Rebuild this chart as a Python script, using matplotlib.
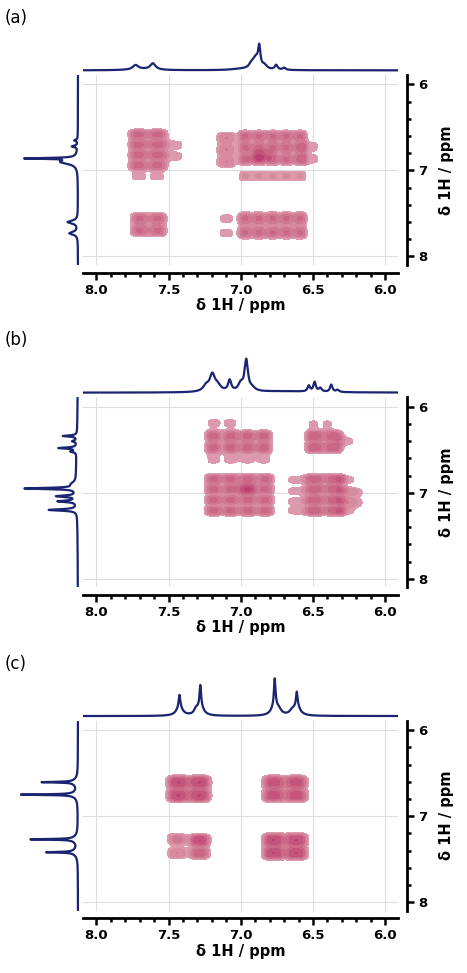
import matplotlib
matplotlib.use("Agg")
import matplotlib.pyplot as plt
import numpy as np
from matplotlib.ticker import MultipleLocator, FormatStrFormatter

plt.rcParams['font.family'] = ['DejaVu Sans']

W, H = 467, 973
panel_labels = ['(a)', '(b)', '(c)']
axis_label = 'δ 1H / ppm'
x_ticks = [8.0, 7.5, 7.0, 6.5, 6.0]
y_ticks = [6, 7, 8]

# 1D projections: peak position (ppm), height, half width
top_a_pos = [7.728, 7.608, 6.925, 6.895, 6.872, 6.835, 6.755, 6.70, 7.68, 7.0]
top_a_h = [0.12, 0.17, 0.12, 0.30, 0.52, 0.10, 0.13, 0.06, 0.03, 0.03]
top_a_w = [0.022, 0.022, 0.02, 0.025, 0.009, 0.02, 0.012, 0.012, 0.1, 0.08]
left_a_pos = [6.65, 6.72, 6.86, 6.90, 7.60, 7.73]
left_a_h = [0.06, 0.10, 0.85, 0.30, 0.18, 0.15]
left_a_w = [0.01, 0.01, 0.006, 0.03, 0.02, 0.02]

top_b_pos = [7.24, 7.197, 7.16, 7.077, 7.0, 6.962, 6.92, 6.529, 6.489, 6.45, 6.374, 6.33, 6.7]
top_b_h = [0.15, 0.45, 0.15, 0.30, 0.20, 0.84, 0.08, 0.16, 0.26, 0.10, 0.20, 0.06, 0.035]
top_b_w = [0.025, 0.022, 0.025, 0.013, 0.02, 0.014, 0.025, 0.01, 0.01, 0.012, 0.01, 0.012, 0.25]
left_b_pos = [6.34, 6.40, 6.48, 6.52, 6.90, 6.95, 7.04, 7.10, 7.20, 6.75]
left_b_h = [0.25, 0.08, 0.32, 0.10, 0.08, 0.90, 0.35, 0.33, 0.50, 0.03]
left_b_w = [0.008, 0.01, 0.008, 0.01, 0.03, 0.008, 0.01, 0.01, 0.01, 0.45]

top_c_pos = [7.424, 7.424, 7.28, 7.28, 7.31, 6.765, 6.765, 6.735, 6.612, 6.612, 6.645]
top_c_h = [0.32, 0.25, 0.55, 0.27, 0.12, 0.70, 0.29, 0.10, 0.36, 0.27, 0.10]
top_c_w = [0.006, 0.025, 0.006, 0.025, 0.015, 0.006, 0.025, 0.02, 0.006, 0.025, 0.02]
left_c_pos = [6.605, 6.75, 7.27, 7.42, 6.605, 6.75, 7.27, 7.42]
left_c_h = [0.55, 0.92, 0.75, 0.47, 0.09, 0.09, 0.09, 0.09]
left_c_w = [0.005, 0.005, 0.005, 0.005, 0.04, 0.04, 0.04, 0.04]

# 2D cross peaks: (x centres, y centres, amplitude)
blocks_a = [
    ([7.71, 7.575], [6.58, 6.70, 6.82, 6.94], 0.75),
    ([7.45], [6.70, 6.84], 0.3),
    ([7.71, 7.575], [7.07], 0.3),
    ([7.70, 7.575], [7.56, 7.70], 0.72),
    ([6.97, 6.875, 6.78, 6.685, 6.59], [6.60, 6.735, 6.87], 0.72),
    ([6.86], [6.83], 0.4),
    ([7.10], [6.62, 6.76, 6.90], 0.55),
    ([6.97, 6.875, 6.78, 6.685, 6.59], [7.065], 0.42),
    ([6.51], [6.72, 6.87], 0.3),
    ([6.97, 6.875, 6.78, 6.685, 6.59], [7.56, 7.72], 0.72),
    ([7.10], [7.56, 7.73], 0.3),
]
blocks_b = [
    ([7.19, 7.07, 6.955, 6.84], [6.34, 6.475], 0.75),
    ([7.19, 7.07], [6.19], 0.3),
    ([7.19, 7.07, 6.955, 6.84], [6.61], 0.32),
    ([6.49, 6.36], [6.34, 6.475], 0.8),
    ([6.26], [6.40], 0.28),
    ([6.50, 6.40], [6.20], 0.28),
    ([7.19, 7.07, 6.95, 6.83], [6.84, 6.96, 7.085, 7.21], 0.74),
    ([6.96], [6.96], 0.3),
    ([6.49, 6.35], [6.84, 6.96, 7.085, 7.21], 0.78),
    ([6.62], [6.85, 6.98, 7.10, 7.21], 0.34),
    ([6.26], [6.85, 6.98, 7.10, 7.21], 0.3),
    ([6.20], [7.00, 7.12], 0.27),
]
blocks_c = [
    ([7.435, 7.285], [6.605, 6.76], 1.0),
    ([6.773, 6.616], [6.605, 6.76], 0.95),
    ([7.285], [7.28], 1.0),
    ([7.285], [7.43], 0.8),
    ([7.44], [7.27], 0.6),
    ([7.44], [7.43], 0.55),
    ([6.773, 6.616], [7.276, 7.43], 1.0),
]

panels = [
    (top_a_pos, top_a_h, top_a_w, left_a_pos, left_a_h, left_a_w, blocks_a),
    (top_b_pos, top_b_h, top_b_w, left_b_pos, left_b_h, left_b_w, blocks_b),
    (top_c_pos, top_c_h, top_c_w, left_c_pos, left_c_h, left_c_w, blocks_c),
]
offsets = [0, 322.3, 645.7]

line_col = '#1a2470'
levels = [0.25, 0.4, 0.55, 0.7, 0.85, 1.0, 3.0]
band_colors = ['#dc9aac', '#d68a9f', '#d07892', '#ca6686', '#c4547b', '#bc4070']

xlim = (8.09, 5.91)
ylim = (8.1, 5.89)


def rect(l, t, r, b):
    return [l / W, 1 - b / H, (r - l) / W, (b - t) / H]


def lorentz(axis, pos, h, w):
    out = np.zeros_like(axis)
    for p, a, g in zip(pos, h, w):
        out += a / (1 + ((axis - p) / g) ** 2)
    return out


def width_for(cs):
    if len(cs) < 2:
        return 0.072
    return min(0.078, np.min(np.abs(np.diff(cs))) / 1.95)


def blob(d, w):
    return np.exp(-(np.abs(d) / w) ** 3)


fig = plt.figure(figsize=(W / 100, H / 100), dpi=100)

gx = np.linspace(5.9, 8.1, 700)
gy = np.linspace(5.88, 8.11, 600)
GX, GY = np.meshgrid(gx, gy)
sx = np.linspace(5.9, 8.1, 3000)

for i, (tp, th, tw, lp, lh, lw, blocks) in enumerate(panels):
    off = offsets[i]

    ax = fig.add_axes(rect(83.3, 75 + off, 398.3, 265 + off))
    Z = np.zeros_like(GX)
    for xs, ys, amp in blocks:
        wx, wy = width_for(xs), width_for(ys)
        for xc in xs:
            for yc in ys:
                Z += amp * blob(GX - xc, wx) * blob(GY - yc, wy)
    ax.contourf(GX, GY, Z, levels=levels, colors=band_colors)
    ax.set_xlim(*xlim)
    ax.set_ylim(*ylim)
    ax.grid(True, color='#dddddd', lw=0.8)
    ax.set_axisbelow(True)
    for s in ['top', 'left']:
        ax.spines[s].set_visible(False)
    ax.spines['bottom'].set_position(('outward', 5.5))
    ax.spines['right'].set_position(('outward', 6.5))
    ax.spines['bottom'].set_linewidth(2)
    ax.spines['right'].set_linewidth(2)
    ax.yaxis.tick_right()
    ax.yaxis.set_label_position('right')
    ax.set_xticks(x_ticks)
    ax.set_yticks(y_ticks)
    ax.xaxis.set_minor_locator(MultipleLocator(0.1))
    ax.yaxis.set_minor_locator(MultipleLocator(0.2))
    ax.xaxis.set_major_formatter(FormatStrFormatter('%.1f'))
    ax.yaxis.set_major_formatter(FormatStrFormatter('%d'))
    ax.tick_params(which='major', direction='out', length=5, width=1.8, labelsize=9.5, pad=3)
    ax.tick_params(which='minor', direction='out', length=3.2, width=1.8)
    for t in ax.get_xticklabels() + ax.get_yticklabels():
        t.set_fontweight('bold')
    ax.set_xlabel(axis_label, fontsize=10.5, fontweight='bold', labelpad=1)
    ax.set_ylabel(axis_label, fontsize=10.5, fontweight='bold', labelpad=8)

    axt = fig.add_axes(rect(83.3, 30 + off, 398.3, 74 + off))
    axt.plot(sx, lorentz(sx, tp, th, tw), color=line_col, lw=1.6)
    axt.set_xlim(*xlim)
    axt.set_ylim(-0.1, 1.105)
    axt.axis('off')

    axl = fig.add_axes(rect(20, 75 + off, 80, 265 + off))
    axl.plot(lorentz(sx, lp, lh, lw), sx, color=line_col, lw=1.6)
    axl.set_ylim(*ylim)
    axl.set_xlim(1.03, -0.036)
    axl.axis('off')

    fig.text(5 / W, 1 - (18 + off) / H, panel_labels[i], fontsize=12,
             va='center', ha='left')

fig.savefig('out.png', dpi=100)
